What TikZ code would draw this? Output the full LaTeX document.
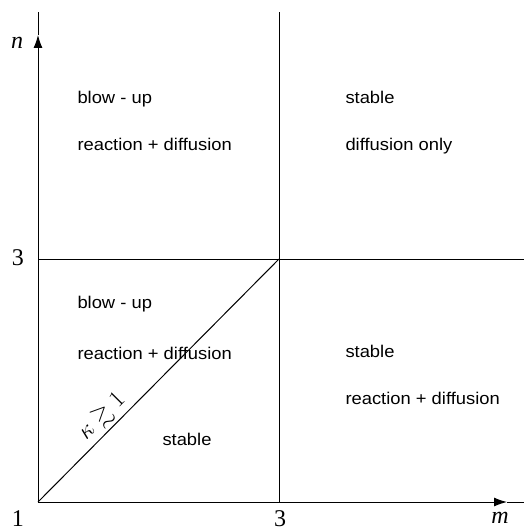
\documentclass[tikz,border=0pt]{standalone}
\usepackage{fix-cm}
\usepackage{amsmath,amssymb}
\usepackage{fontspec}
\setmainfont{Liberation Serif}
\newfontfamily\labfont[FakeStretch=1.08]{Liberation Sans}
\usetikzlibrary{arrows.meta}
\begin{document}
\begin{tikzpicture}[x=1pt,y=-1pt, line width=1pt,
  region/.style={anchor=base west, inner sep=0pt, font=\labfont\fontsize{17}{20}\selectfont},
  axlabel/.style={inner sep=0pt, font=\fontsize{24}{28}\selectfont},
  axtip/.style={-{Latex[length=13pt,width=9pt]}}]
\useasboundingbox (0,0) rectangle (524,527);
\coordinate (O) at (38,502);
\coordinate (Ytop) at (38,12);
\coordinate (Ytip) at (38,35);
\coordinate (Xend) at (524,502);
\coordinate (Xtip) at (507,502);
\coordinate (C) at (279,259);
\coordinate (Vtop) at (279,12);
\coordinate (Vbot) at (279,502);
\coordinate (Hleft) at (38,259);
\coordinate (Hright) at (524,259);
% axes
\draw[axtip] (O) -- (Ytip);
\draw (Ytip) -- (Ytop);
\draw[axtip] (O) -- (Xtip);
\draw (Xtip) -- (Xend);
% dividers
\draw (Vbot) -- (Vtop);
\draw (Hleft) -- (Hright);
\draw (O) -- node[pos=0.31, sloped, above, inner sep=3pt, font=\fontsize{24}{28}\selectfont] (kl) {$\kappa\gtrsim 1$} (C);
% axis labels
\node[axlabel] (ln) at (17,43) {\itshape n};
\node[axlabel] (l3y) at (18,258) {3};
\node[axlabel] (l1) at (18,519) {1};
\node[axlabel] (l3x) at (280,519) {3};
\node[axlabel] (lm) at (500,518) {\itshape m};
% region texts
\node[region] (ul1) at (77,103) {blow - up};
\node[region] (ul2) at (77,150) {reaction + diffusion};
\node[region] (ur1) at (345,103) {stable};
\node[region] (ur2) at (345,150) {diffusion only};
\node[region] (ll1) at (77,308) {blow - up};
\node[region] (ll2) at (77,359) {reaction + diffusion};
\node[region] (ll3) at (162,445) {stable};
\node[region] (lr1) at (345,357) {stable};
\node[region] (lr2) at (345,404) {reaction + diffusion};
\end{tikzpicture}
\end{document}
